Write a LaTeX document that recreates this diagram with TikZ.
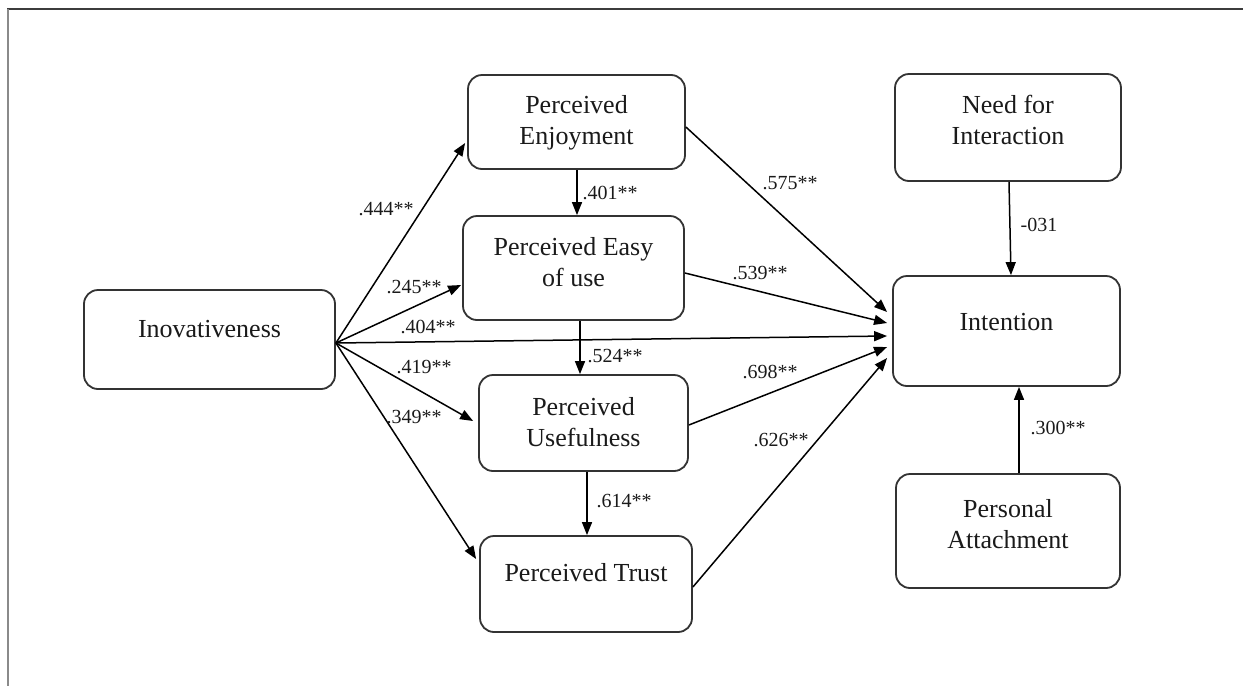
\documentclass[tikz,border=0pt]{standalone}
\usepackage{fontspec}
\setmainfont{Liberation Serif}
\usetikzlibrary{arrows.meta}
\definecolor{boxgray}{HTML}{333333}
\definecolor{textblack}{HTML}{1A1A1A}
\definecolor{framegray}{HTML}{8A8A8A}
\definecolor{framedark}{HTML}{3C3C3C}
\begin{document}
\begin{tikzpicture}[x=1pt,y=-1pt,
  box/.style={draw=boxgray, line width=1.8pt, rounded corners=14pt, fill=white, inner sep=0pt},
  txt/.style={font=\fontsize{26}{31}\selectfont, align=center, text=textblack, inner sep=0pt},
  lbl/.style={font=\fontsize{20}{24}\selectfont, inner sep=0pt, text=textblack},
  arr/.style={-{Triangle[length=13pt,width=10pt]}, line width=1.5pt, draw=black}]
\useasboundingbox (0,0) rectangle (1243,686);
% frame
\draw[line width=1.5pt, draw=framedark] (7,9) -- (1243,9);
\draw[line width=2pt, draw=framegray] (8,9) -- (8,686);

% boxes
\node[box, minimum width=251pt, minimum height=99pt]  (inov)  at (209.5,339.5) {};
\node[box, minimum width=217pt, minimum height=94pt]  (enj)   at (576.5,122) {};
\node[box, minimum width=221pt, minimum height=104pt] (easy)  at (573.5,268) {};
\node[box, minimum width=209pt, minimum height=96pt]  (use)   at (583.5,423) {};
\node[box, minimum width=212pt, minimum height=96pt]  (trust) at (586,584) {};
\node[box, minimum width=226pt, minimum height=107pt] (need)  at (1008,127.5) {};
\node[box, minimum width=227pt, minimum height=110pt] (int)   at (1006.5,331) {};
\node[box, minimum width=224pt, minimum height=114pt] (pa)    at (1008,531) {};

% box texts
\node[txt] (inovT)  at (209.5,329.4) {Inovativeness};
\node[txt] (enjT)   at (576.5,122.4) {Perceived\\Enjoyment};
\node[txt] (easyT)  at (573.5,262.6) {Perceived Easy\\of use};
\node[txt] (useT)   at (583.5,421.6) {Perceived\\Usefulness};
\node[txt] (trustT) at (586,573) {Perceived Trust};
\node[txt] (needT)  at (1008,119.6) {Need for\\Interaction};
\node[txt] (intT)   at (1006.5,322.4) {Intention};
\node[txt] (paT)    at (1008,523.6) {Personal\\Attachment};

% arrows from Inovativeness
\draw[arr] ([yshift=-3.5pt]inov.east) -- ([xshift=-2pt,yshift=-21pt]enj.west);
\draw[arr] ([yshift=-3.5pt]inov.east) -- ([xshift=-1pt,yshift=-17pt]easy.west);
\draw[arr] ([yshift=-3.5pt]inov.east) -- ([xshift=-5pt,yshift=-5pt]int.west);
\draw[arr] ([yshift=-3.5pt]inov.east) -- ([xshift=-5pt,yshift=2pt]use.west);
\draw[arr] ([yshift=-3.5pt]inov.east) -- ([xshift=-3pt,yshift=25pt]trust.west);

% vertical chain
\draw[arr] ([xshift=0.5pt]enj.south) -- ([xshift=3.5pt]easy.north);
\draw[arr] ([xshift=6.5pt]easy.south) -- ([xshift=-3.5pt]use.north);
\draw[arr] ([xshift=3.5pt]use.south) -- ([xshift=1pt]trust.north);

% arrows into Intention
\draw[arr] ([yshift=-5pt]enj.east) -- ([xshift=-5pt,yshift=19pt]int.west);
\draw[arr] ([yshift=-5pt]easy.east) -- ([xshift=-5pt,yshift=8pt]int.west);
\draw[arr] ([yshift=-2pt]use.east) -- ([xshift=-5pt,yshift=-16pt]int.west);
\draw[arr] ([yshift=-3pt]trust.east) -- ([xshift=-5pt,yshift=-27pt]int.west);
\draw[arr] ([xshift=1pt]need.south) -- ([xshift=4.5pt]int.north);
\draw[arr] ([xshift=11pt]pa.north) -- ([xshift=12.5pt]int.south);

% labels
\node[lbl] (l444) at (386,209) {.444**};
\node[lbl] (l245) at (414,287) {.245**};
\node[lbl] (l404) at (428,327) {.404**};
\node[lbl] (l419) at (424,367) {.419**};
\node[lbl] (l349) at (414,417) {.349**};
\node[lbl] (l401) at (610,193) {.401**};
\node[lbl] (l524) at (615,356) {.524**};
\node[lbl] (l614) at (624,501) {.614**};
\node[lbl] (l575) at (790,183) {.575**};
\node[lbl] (l539) at (760,273) {.539**};
\node[lbl] (l698) at (770,372) {.698**};
\node[lbl] (l626) at (781,440) {.626**};
\node[lbl] (l031) at (1039,225) {-031};
\node[lbl] (l300) at (1058,428) {.300**};
\end{tikzpicture}
\end{document}
